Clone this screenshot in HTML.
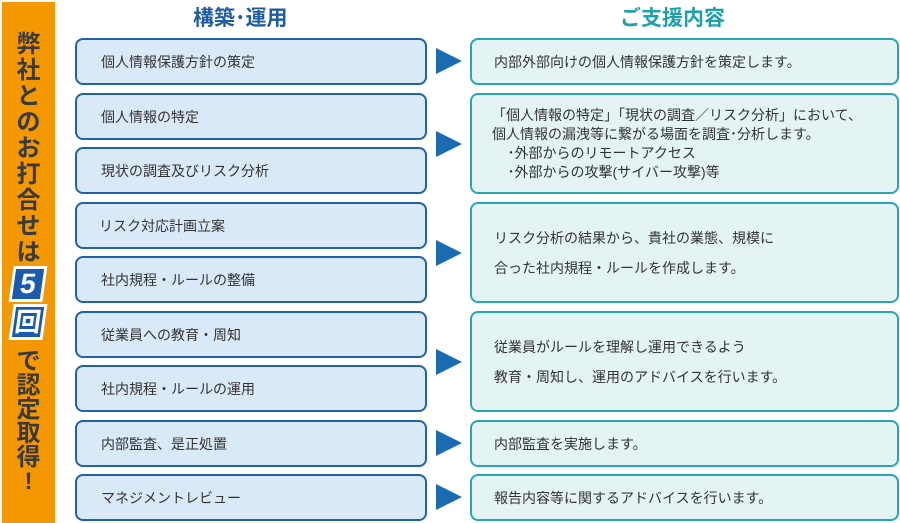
<!DOCTYPE html>
<html><head><meta charset="utf-8"><style>
*{margin:0;padding:0;box-sizing:border-box}
body{width:900px;height:523px;background:#fff;position:relative;overflow:hidden;font-family:"Liberation Sans","Noto Sans CJK JP",sans-serif;color:#333}
.bar{position:absolute;left:2px;top:2px;width:53px;height:521px;background:#f39800}
.vt{position:absolute;left:0;width:57px;text-align:center;font-weight:bold;font-size:24px;line-height:26px;color:#3a3a3a}
.num{position:absolute;left:11px;width:34px;height:36px;background:#1a5bb0;border:3px solid #fff;color:#fff;font-weight:bold;font-size:28px;line-height:30px;text-align:center;transform:skewX(-8deg)}
.h{position:absolute;top:2px;font-weight:bold;font-size:21px}
.l{position:absolute;left:75px;width:352px;background:#dae9f7;border:2px solid #2162aa;border-radius:8px;font-size:14px;padding-left:24px;display:flex;align-items:center}
.r{position:absolute;left:470px;width:429px;background:#e4f4f5;border:2px solid #27a8b1;border-radius:8px;font-size:14px;padding-left:22px;display:flex;align-items:center;line-height:22px}
.a{position:absolute;left:436px;width:0;height:0;border-top:13px solid transparent;border-bottom:13px solid transparent;border-left:26px solid #1a6bb0}
</style></head><body>
<div class="bar"></div>
<div class="vt" style="top:32px">弊<br>社<br>と<br>の<br>お<br>打<br>合<br>せ<br>は</div>
<div class="num" style="top:266px">5</div>
<div class="num" style="top:304px;font-size:26px">回</div>
<div class="vt" style="top:350px;line-height:24px">で<br>認<br>定<br>取<br>得<br>!</div>
<div class="h" style="left:193px;color:#1f5ca6">構築･運用</div>
<div class="h" style="left:620px;color:#1ea2aa">ご支援内容</div>

<div class="l" style="top:38px;height:47px">個人情報保護方針の策定</div>
<div class="l" style="top:93px;height:47px">個人情報の特定</div>
<div class="l" style="top:147px;height:47px">現状の調査及びリスク分析</div>
<div class="l" style="top:202px;height:47px;padding-left:22px">リスク対応計画立案</div>
<div class="l" style="top:256px;height:47px">社内規程・ルールの整備</div>
<div class="l" style="top:311px;height:47px">従業員への教育・周知</div>
<div class="l" style="top:365px;height:47px">社内規程・ルールの運用</div>
<div class="l" style="top:420px;height:47px">内部監査、是正処置</div>
<div class="l" style="top:474px;height:47px">マネジメントレビュー</div>

<div class="a" style="top:48px"></div>
<div class="a" style="top:131px"></div>
<div class="a" style="top:240px"></div>
<div class="a" style="top:349px"></div>
<div class="a" style="top:430px"></div>
<div class="a" style="top:484px"></div>

<div class="r" style="top:38px;height:47px">内部外部向けの個人情報保護方針を策定します。</div>
<div class="r" style="top:93px;height:101px;line-height:19px;padding-left:20px"><div>「個人情報の特定」「現状の調査／リスク分析」において、<br>個人情報の漏洩等に繋がる場面を調査･分析します。<br>&nbsp;&nbsp;&nbsp;&nbsp;･外部からのリモートアクセス<br>&nbsp;&nbsp;&nbsp;&nbsp;･外部からの攻撃(サイバー攻撃)等</div></div>
<div class="r" style="top:202px;height:101px;line-height:30px"><div>リスク分析の結果から、貴社の業態、規模に<br>合った社内規程・ルールを作成します。</div></div>
<div class="r" style="top:311px;height:101px;line-height:30px"><div>従業員がルールを理解し運用できるよう<br>教育・周知し、運用のアドバイスを行います。</div></div>
<div class="r" style="top:420px;height:47px">内部監査を実施します。</div>
<div class="r" style="top:474px;height:47px">報告内容等に関するアドバイスを行います。</div>
</body></html>
